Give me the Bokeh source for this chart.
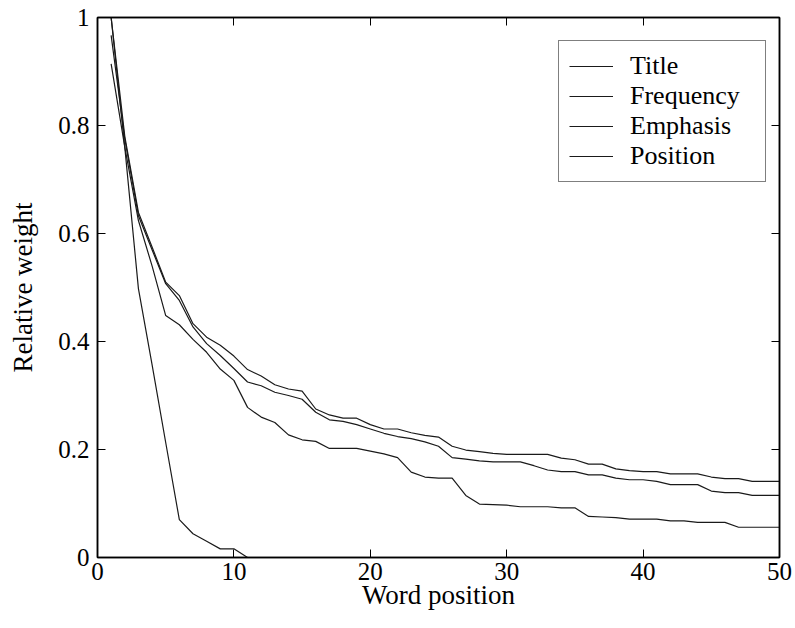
from bokeh.plotting import figure
from bokeh.models import (LinearAxis, FixedTicker, Legend, LegendItem, Range1d,
                          CustomJSTickFormatter, ColumnDataSource)
from bokeh.embed import file_html
from bokeh.resources import INLINE

# ---- data ----
word_pos = list(range(1, 51))

title_w = [1.0, 0.76, 0.498, 0.357, 0.213, 0.07, 0.044, 0.03, 0.016, 0.016,
           0, 0, 0, 0, 0, 0, 0, 0, 0, 0,
           0, 0, 0, 0, 0, 0, 0, 0, 0, 0,
           0, 0, 0, 0, 0, 0, 0, 0, 0, 0,
           0, 0, 0, 0, 0, 0, 0, 0, 0, 0]

emphasis_w = [1.0, 0.78, 0.639, 0.575, 0.510, 0.485, 0.433, 0.408, 0.393, 0.373,
              0.348, 0.336, 0.320, 0.312, 0.308, 0.275, 0.264, 0.258, 0.258, 0.246,
              0.238, 0.238, 0.231, 0.226, 0.223, 0.206, 0.199, 0.196, 0.193, 0.191,
              0.191, 0.191, 0.191, 0.184, 0.181, 0.173, 0.173, 0.164, 0.161, 0.159,
              0.159, 0.155, 0.155, 0.155, 0.149, 0.146, 0.146, 0.141, 0.141, 0.141]

frequency_w = [0.967, 0.775, 0.633, 0.57, 0.507, 0.476, 0.427, 0.396, 0.374, 0.350,
               0.325, 0.318, 0.306, 0.300, 0.293, 0.269, 0.255, 0.252, 0.246, 0.238,
               0.230, 0.224, 0.220, 0.214, 0.206, 0.185, 0.182, 0.179, 0.177, 0.177,
               0.177, 0.170, 0.162, 0.159, 0.159, 0.153, 0.153, 0.147, 0.144, 0.144,
               0.141, 0.135, 0.135, 0.135, 0.123, 0.120, 0.120, 0.115, 0.115, 0.115]

position_w = [0.914, 0.76, 0.624, 0.54, 0.448, 0.431, 0.404, 0.380, 0.349, 0.328,
              0.278, 0.26, 0.25, 0.227, 0.218, 0.215, 0.202, 0.202, 0.202, 0.197,
              0.192, 0.185, 0.158, 0.149, 0.147, 0.147, 0.115, 0.099, 0.098, 0.097,
              0.094, 0.094, 0.094, 0.092, 0.092, 0.076, 0.075, 0.074, 0.071, 0.071,
              0.071, 0.068, 0.068, 0.065, 0.065, 0.065, 0.056, 0.056, 0.056, 0.056]

x_ticks = [0, 10, 20, 30, 40, 50]
y_ticks = [0, 0.2, 0.4, 0.6, 0.8, 1]
y_tick_labels = ["0", "0.2", "0.4", "0.6", "0.8", "1"]
legend_labels = ["Title", "Frequency", "Emphasis", "Position"]

FONT = "Liberation Serif"
INK = "#1a1a1a"

p = figure(width=795, height=628, x_range=Range1d(0, 50), y_range=Range1d(0, 1),
           output_backend="svg", toolbar_location=None,
           min_border_left=97, min_border_right=16, min_border_top=17, min_border_bottom=71)
p.background_fill_color = "white"
p.border_fill_color = "white"
p.grid.visible = False
p.outline_line_color = "black"
p.outline_line_width = 1.5

src = ColumnDataSource(dict(x=word_pos, t=title_w, f=frequency_w, e=emphasis_w, pz=position_w))
r_t = p.line("x", "t", source=src, line_color=INK, line_width=1.2)
r_f = p.line("x", "f", source=src, line_color=INK, line_width=1.2)
r_e = p.line("x", "e", source=src, line_color=INK, line_width=1.2)
r_p = p.line("x", "pz", source=src, line_color=INK, line_width=1.2)

def style_axis(ax, labels=True):
    ax.axis_line_color = "black"
    ax.axis_line_width = 1.5
    ax.major_tick_in = 8
    ax.major_tick_out = 0
    ax.major_tick_line_color = "black"
    ax.major_tick_line_width = 1
    ax.minor_tick_line_color = None
    ax.major_label_text_font = FONT
    ax.major_label_text_color = "black"
    ax.axis_label_text_font = FONT
    ax.axis_label_text_font_style = "normal"
    ax.axis_label_text_color = "black"
    if not labels:
        ax.formatter = CustomJSTickFormatter(code="return ''")
        ax.major_label_text_font_size = "0px"
        ax.major_label_standoff = 0

xa = p.xaxis[0]
xa.ticker = FixedTicker(ticks=x_ticks)
style_axis(xa)
xa.major_label_text_font_size = "25px"
xa.major_label_standoff = 5
xa.axis_label = "Word position"
xa.axis_label_text_font_size = "27px"
xa.axis_label_standoff = -3

ya = p.yaxis[0]
ya.ticker = FixedTicker(ticks=y_ticks)
ya.major_label_overrides = {float(v): s for v, s in zip(y_ticks, y_tick_labels)}
style_axis(ya)
ya.major_label_text_font_size = "25px"
ya.major_label_standoff = 8
ya.axis_label = "Relative weight"
ya.axis_label_text_font_size = "27px"
ya.axis_label_standoff = 17

top_ax = LinearAxis(ticker=FixedTicker(ticks=x_ticks))
style_axis(top_ax, labels=False)
p.add_layout(top_ax, "above")
right_ax = LinearAxis(ticker=FixedTicker(ticks=y_ticks))
style_axis(right_ax, labels=False)
p.add_layout(right_ax, "right")

legend = Legend(items=[LegendItem(label=legend_labels[0], renderers=[r_t]),
                       LegendItem(label=legend_labels[1], renderers=[r_f]),
                       LegendItem(label=legend_labels[2], renderers=[r_e]),
                       LegendItem(label=legend_labels[3], renderers=[r_p])],
                location=(461, 375))
legend.label_text_font = FONT
legend.label_text_font_size = "26px"
legend.label_text_color = "black"
legend.glyph_width = 44
legend.glyph_height = 30
legend.label_height = 30
legend.label_width = 125
legend.label_standoff = 17
legend.spacing = 0
legend.padding = 10
legend.margin = 0
legend.border_line_color = "black"
legend.border_line_width = 1
legend.background_fill_color = "white"
legend.background_fill_alpha = 1
p.add_layout(legend, "center")

open("out.html", "w").write(file_html(p, INLINE))
